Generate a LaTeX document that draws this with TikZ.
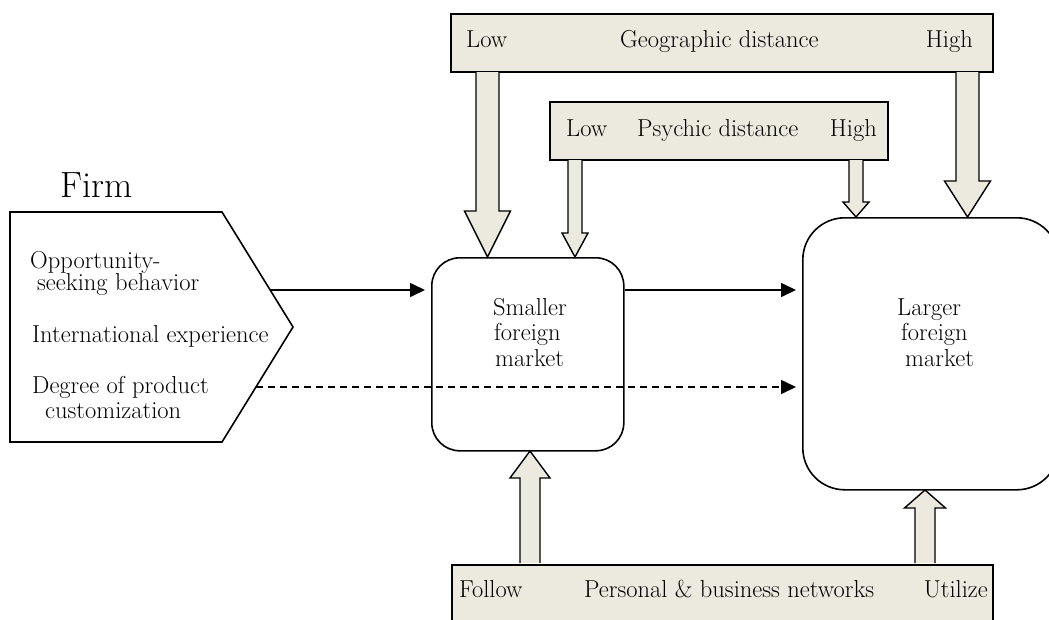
\documentclass[tikz,border=0pt]{standalone}
\usetikzlibrary{arrows.meta,calc}
\definecolor{beige}{RGB}{236,233,222}
\newcommand\downblk[5]{\path[blk] let \p1=(#1), \p2=(#2) in (\x1-#3pt,\y1) -- (\x1-#3pt,\y2+#5pt) -- (\x1-#4pt,\y2+#5pt) -- (\x2,\y2) -- (\x1+#4pt,\y2+#5pt) -- (\x1+#3pt,\y2+#5pt) -- (\x1+#3pt,\y1);}
\newcommand\upblk[5]{\path[blk] let \p1=(#1), \p2=(#2) in (\x1-#3pt,\y1) -- (\x1-#3pt,\y2-#5pt) -- (\x1-#4pt,\y2-#5pt) -- (\x2,\y2) -- (\x1+#4pt,\y2-#5pt) -- (\x1+#3pt,\y2-#5pt) -- (\x1+#3pt,\y1);}
\begin{document}
\begin{tikzpicture}[x=1pt,y=-1pt,
  font=\fontsize{24.5}{27}\selectfont,
  bar/.style={draw, fill=beige, line width=1.6pt, inner sep=0pt, anchor=north west},
  mkt/.style={draw, line width=1.6pt, inner sep=0pt, anchor=north west},
  lbl/.style={inner sep=0pt, anchor=base west},
  lblr/.style={inner sep=0pt, anchor=base east},
  flow/.style={line width=1.6pt, -{Triangle[length=15pt,width=14pt]}, shorten >=6pt},
  blk/.style={draw, fill=beige, line width=1.4pt, line join=miter}]
\useasboundingbox (0,0) rectangle (1049,619);

% bars
\node[bar, minimum width=542pt, minimum height=58pt] (geo) at (450,13) {};
\node[bar, minimum width=338pt, minimum height=58pt] (psy) at (549,101) {};
\node[bar, minimum width=541pt, minimum height=80pt] (net) at (451,564) {};

% markets
\node[mkt, minimum width=192pt, minimum height=193pt, rounded corners=28pt] (small) at (431,257) {};
\node[mkt, minimum width=256pt, minimum height=272pt, rounded corners=42pt] (large) at (802,217) {};

% firm
\coordinate (fa) at (10,212);
\coordinate (fb) at (222,212);
\coordinate (fc) at (293,327);
\coordinate (fd0) at (222,442);
\coordinate (fe) at (10,442);
\draw[line width=1.6pt, line join=miter] (fa) -- (fb) -- (fc) -- (fd0) -- (fe) -- cycle;
\node[lbl, font=\fontsize{36.5}{40}\selectfont] (firm) at (60,197) {Firm};
\node[lbl] (t1) at (30,268) {Opportunity-};
\node[lbl] (t2) at (37,290) {seeking behavior};
\node[lbl] (t3) at (32,342) {International experience};
\node[lbl] (t4) at (32,393) {Degree of product};
\node[lbl] (t5) at (45,418) {customization};

% bar labels
\node[lbl] (gl) at (466,47) {Low};
\node[lbl] (gm) at (620,47) {Geographic distance};
\node[lblr] (gh) at (973,47) {High};
\node[lbl] (pl) at (566,136) {Low};
\node[lbl] (pm) at (637,136) {Psychic distance};
\node[lblr] (ph) at (877,136) {High};
\node[lbl] (nl) at (459,597) {Follow};
\node[lbl] (nm) at (584,597) {Personal \& business networks};
\node[lblr] (nh) at (988,597) {Utilize};

% market labels
\node[lbl] (s1) at (493,315) {Smaller};
\node[lbl] (s2) at (494,340) {foreign};
\node[lbl] (s3) at (495,366) {market};
\node[lbl] (l1) at (897,315) {Larger};
\node[lbl] (l2) at (901,340) {foreign};
\node[lbl] (l3) at (905,366) {market};

% block arrows
\coordinate (g1s) at (487.5,72); \coordinate (g1e) at (487.5,257);
\coordinate (g2s) at (967.5,72); \coordinate (g2e) at (967.5,217);
\coordinate (p1s) at (575,160); \coordinate (p1e) at (575,257);
\coordinate (p2s) at (856,160); \coordinate (p2e) at (856,217);
\coordinate (n1s) at (530,563); \coordinate (n1e) at (530,451);
\coordinate (n2s) at (925,563); \coordinate (n2e) at (925,490);
\downblk{g1s}{g1e}{11.5}{23}{46}
\downblk{g2s}{g2e}{11.5}{23}{36}
\downblk{p1s}{p1e}{7}{13}{24}
\downblk{p2s}{p2e}{7}{13}{15}
\upblk{n1s}{n1e}{10}{20}{27}
\upblk{n2s}{n2e}{10}{20.5}{18}

% connectors
\coordinate (fo) at (270,290);
\coordinate (fd) at (256,387);
\draw[flow] (fo) -- (fo -| small.west);
\draw[flow] (small.east |- fo) -- (fo -| large.west);
\draw[flow, dash pattern=on 7pt off 5pt] (fd) -- (fd -| large.west);
\end{tikzpicture}
\end{document}
